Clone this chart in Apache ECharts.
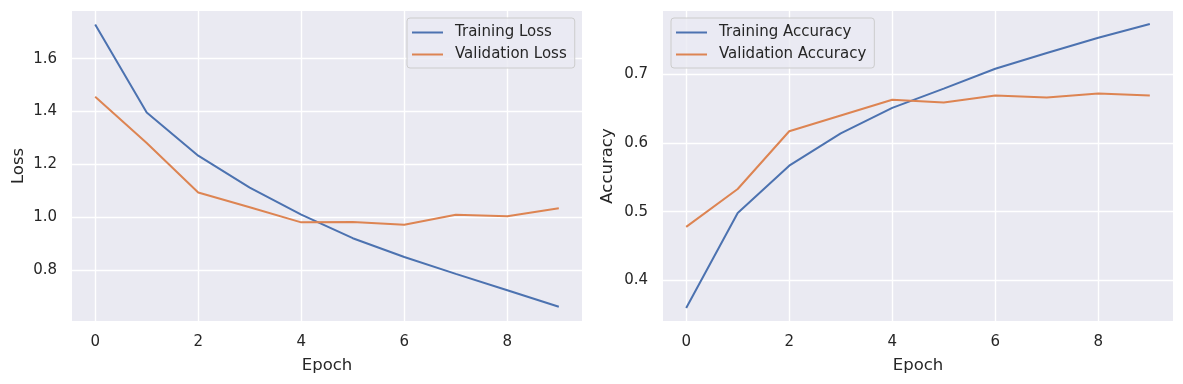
<!DOCTYPE html>
<html>
<head>
<meta charset="utf-8">
<script src="https://cdn.jsdelivr.net/npm/echarts@6/dist/echarts.min.js"></script>
<style>
html,body{margin:0;padding:0;background:#fff;}
#c{width:1183px;height:384px;}
</style>
</head>
<body>
<div id="c"></div>
<script>
// ---- data ----
const epochs = [0, 1, 2, 3, 4, 5, 6, 7, 8, 9];
const trainLoss = [1.729, 1.396, 1.233, 1.112, 1.010, 0.921, 0.850, 0.786, 0.724, 0.662];
const valLoss = [1.456, 1.281, 1.094, 1.038, 0.981, 0.982, 0.972, 1.010, 1.004, 1.034];
const trainAcc = [0.360, 0.498, 0.567, 0.614, 0.651, 0.679, 0.708, 0.731, 0.753, 0.773];
const valAcc = [0.478, 0.533, 0.617, 0.640, 0.663, 0.659, 0.669, 0.666, 0.672, 0.669];
const xTicks = [0, 2, 4, 6, 8];
const lossTicks = [0.8, 1.0, 1.2, 1.4, 1.6];
const accTicks = [0.4, 0.5, 0.6, 0.7];
const xRange = [-0.45, 9.45];
const lossRange = [0.608, 1.780];
const accRange = [0.341, 0.792];

const FONT = 'DejaVu Sans';
const TXT = '#262626';
const BLUE = '#4C72B0';
const ORANGE = '#DD8452';

function pairs(ys) { return epochs.map((e, i) => [e, ys[i]]); }

function xAxisCfg(gridIndex) {
  return {
    type: 'value', gridIndex: gridIndex,
    min: xRange[0], max: xRange[1],
    name: 'Epoch', nameLocation: 'middle', nameGap: 36,
    nameTextStyle: { fontFamily: FONT, fontSize: 16.5, color: TXT },
    axisLine: { show: false },
    axisTick: { show: false, customValues: xTicks },
    axisLabel: { customValues: xTicks, fontFamily: FONT, fontSize: 15, color: TXT, margin: 14 },
    splitLine: { show: true, lineStyle: { color: '#ffffff', width: 1.4 } }
  };
}
function yAxisCfg(gridIndex, name, range, ticks, gap) {
  return {
    type: 'value', gridIndex: gridIndex,
    min: range[0], max: range[1],
    name: name, nameLocation: 'middle', nameGap: gap,
    nameTextStyle: { fontFamily: FONT, fontSize: 16.5, color: TXT },
    axisLine: { show: false },
    axisTick: { show: false, customValues: ticks },
    axisLabel: { customValues: ticks, fontFamily: FONT, fontSize: 15, color: TXT, margin: 15,
      formatter: v => v.toFixed(1) },
    splitLine: { show: true, lineStyle: { color: '#ffffff', width: 1.4 } }
  };
}
function lineSeries(name, ys, idx, color) {
  return {
    type: 'line', name: name, xAxisIndex: idx, yAxisIndex: idx,
    data: pairs(ys), showSymbol: false, symbol: 'none', animation: false,
    lineStyle: { color: color, width: 2 }, itemStyle: { color: color }
  };
}
function legendCfg(names, left) {
  return {
    data: names, orient: 'vertical', left: left, top: 18,
    icon: 'rect', itemWidth: 31, itemHeight: 2, itemGap: 7,
    padding: [7, 8, 6, 5],
    backgroundColor: 'rgba(234,234,242,0.8)', borderColor: '#cccccc', borderWidth: 1, borderRadius: 3,
    textStyle: { fontFamily: FONT, fontSize: 15, color: TXT, lineHeight: 15, padding: [0, 0, 0, 7] }
  };
}

const chart = echarts.init(document.getElementById('c'), null, { renderer: 'canvas' });
chart.setOption({
  animation: false,
  backgroundColor: '#ffffff',
  textStyle: { fontFamily: FONT },
  grid: [
    { left: 72, right: 601, top: 11, bottom: 63, show: true, backgroundColor: '#EAEAF2', borderWidth: 0 },
    { left: 663, right: 10, top: 11, bottom: 63, show: true, backgroundColor: '#EAEAF2', borderWidth: 0 }
  ],
  legend: [
    legendCfg(['Training Loss', 'Validation Loss'], 407),
    legendCfg(['Training Accuracy', 'Validation Accuracy'], 671)
  ],
  xAxis: [xAxisCfg(0), xAxisCfg(1)],
  yAxis: [yAxisCfg(0, 'Loss', lossRange, lossTicks, 45), yAxisCfg(1, 'Accuracy', accRange, accTicks, 47)],
  series: [
    lineSeries('Training Loss', trainLoss, 0, BLUE),
    lineSeries('Validation Loss', valLoss, 0, ORANGE),
    lineSeries('Training Accuracy', trainAcc, 1, BLUE),
    lineSeries('Validation Accuracy', valAcc, 1, ORANGE)
  ]
});
</script>
</body>
</html>
